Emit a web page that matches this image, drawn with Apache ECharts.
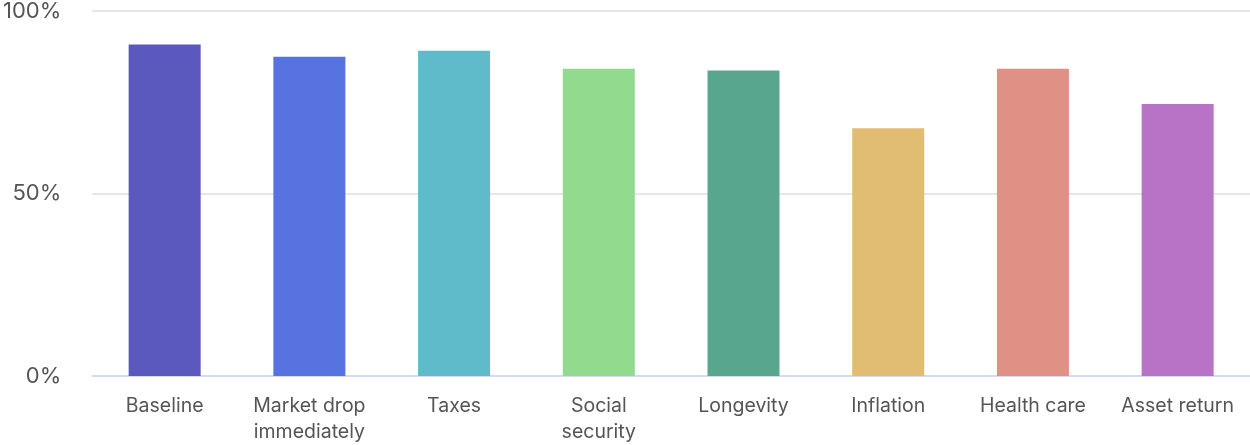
<!DOCTYPE html>
<html><head><meta charset="utf-8">
<script src="https://cdn.jsdelivr.net/npm/echarts@6/dist/echarts.min.js"></script>
<style>html,body{margin:0;padding:0;background:#fff}#c{width:1250px;height:445px}</style>
</head><body><div id="c"></div>
<script>
const categories = ['Baseline', 'Market drop\nimmediately', 'Taxes', 'Social\nsecurity', 'Longevity', 'Inflation', 'Health care', 'Asset return'];
const values = [90.8, 87.5, 89.1, 84.2, 83.7, 67.9, 84.2, 74.5];
const colors = ['#5b59bd', '#5773e0', '#5fbbc9', '#92da8e', '#58a68d', '#e1bd73', '#e09186', '#b872c6'];
const yTicks = [0, 50, 100];

const chart = echarts.init(document.getElementById('c'));
chart.setOption({
  animation: false,
  grid: {left: 92, right: 0, top: 10, bottom: 65},
  xAxis: {
    type: 'category', data: categories,
    axisLine: {lineStyle: {color: '#d3dbee', width: 2}},
    axisTick: {show: false},
    axisLabel: {fontFamily: 'Inter', fontSize: 19.5, color: '#555', margin: 17, lineHeight: 26, interval: 0}
  },
  yAxis: {
    type: 'value', min: 0, max: 100, interval: 50,
    axisLabel: {formatter: v => yTicks.includes(v) ? v + '%' : '', fontFamily: 'Inter', fontSize: 22, color: '#555', margin: 31},
    splitLine: {lineStyle: {color: '#e6e6e6', width: 2}},
    axisLine: {show: false}, axisTick: {show: false}
  },
  series: [{
    type: 'bar', barWidth: 72,
    data: values.map((v, i) => ({value: v, itemStyle: {color: colors[i]}}))
  }]
});
</script></body></html>
